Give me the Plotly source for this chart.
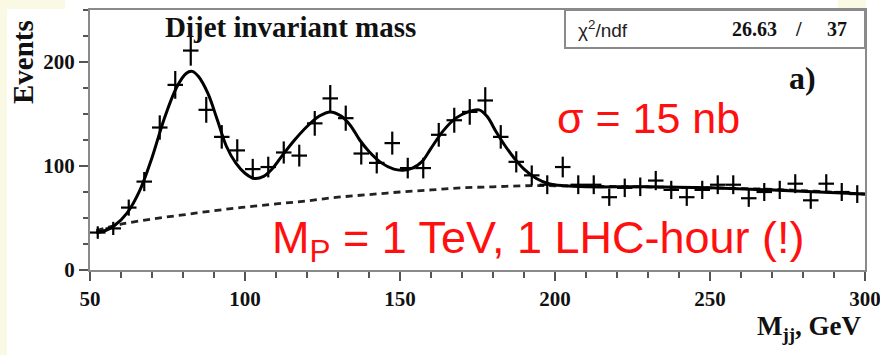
import plotly.graph_objects as go
import math

# ---------------- data ----------------
mass_bins = [52.5, 57.5, 62.5, 67.5, 72.5, 77.5, 82.5, 87.5, 92.5, 97.5,
             102.5, 107.5, 112.5, 117.5, 122.5, 127.5, 132.5, 137.5, 142.5, 147.5,
             152.5, 157.5, 162.5, 167.5, 172.5, 177.5, 182.5, 187.5, 192.5, 197.5,
             202.5, 207.5, 212.5, 217.5, 222.5, 227.5, 232.5, 237.5, 242.5, 247.5,
             252.5, 257.5, 262.5, 267.5, 272.5, 277.5, 282.5, 287.5, 292.5, 297.5]
events = [36, 40, 60, 85, 137, 178, 211, 154, 128, 115,
          97, 99, 113, 110, 141, 165, 146, 112, 103, 122,
          98, 98, 130, 144, 152, 163, 128, 104, 91, 82,
          99, 82, 82, 70, 79, 80, 86, 77, 70, 77,
          82, 82, 69, 75, 77, 83, 67, 83, 75, 73]
bin_half_width = 2.5

fit_x = [52, 55, 58, 62, 66, 70, 74, 78, 81, 83, 85, 88, 91, 94, 97, 100, 103, 106,
         109, 112, 116, 120, 124, 127.5, 131, 134, 137, 140, 144, 148, 151, 154, 157,
         160, 164, 168, 172, 175.5, 178, 181, 184, 187, 190, 194, 198, 203, 210, 230,
         250, 270, 300]
fit_y = [36, 38, 43, 55, 76, 108, 146, 176, 189, 191, 186, 170, 145, 119, 103, 93, 88, 90,
         98, 110, 125, 138, 148, 152, 148, 139, 125, 114, 103, 97, 96, 98, 104,
         117, 134, 146, 152, 154, 148, 133, 119, 107, 97, 88, 83, 81, 80, 80,
         79, 77, 73]

bkg_x = [52, 60, 70, 80, 90, 100, 110, 120, 130, 140, 150, 160, 170, 180, 190, 200,
         225, 250, 275, 300]
bkg_y = [38, 44, 49, 53, 57, 60.5, 63.5, 66.5, 70, 72.5, 75, 77, 79, 80, 81, 81,
         80, 79, 77, 73]

y_ticks = [0, 100, 200]
x_ticks = [50, 100, 150, 200, 250, 300]

title_text = "Dijet invariant mass"
chi2_label = "χ<sup>2</sup>/ndf"
chi2_value = "26.63"
ndf_value = "37"

# ---------------- layout geometry ----------------
W, H = 880, 355
L, R, T, B = 90, 15, 10, 85
PW, PH = W - L - R, H - T - B


def px(xpix):
    return (xpix - L) / PW


def py(ypix):
    return (H - B - ypix) / PH


SERIF = "Liberation Serif"
SANS = "Liberation Sans"

fig = go.Figure()

fig.add_trace(go.Scatter(
    x=bkg_x, y=bkg_y, mode="lines", line=dict(color="#222222", width=2.8, dash="7px,5px"),
    line_shape="spline", hoverinfo="skip", showlegend=False))

fig.add_trace(go.Scatter(
    x=fit_x, y=fit_y, mode="lines", line=dict(color="black", width=3),
    line_shape="spline", hoverinfo="skip", showlegend=False))

fig.add_trace(go.Scatter(
    x=mass_bins, y=events, mode="markers",
    marker=dict(size=1, color="black"),
    error_x=dict(type="constant", value=bin_half_width, width=0, thickness=2.2, color="black"),
    error_y=dict(type="data", array=[math.sqrt(v) for v in events], width=0,
                 thickness=2.2, color="black"),
    showlegend=False))

axis_common = dict(showline=True, linecolor="#8a8a8a", linewidth=2, mirror=True,
                   showgrid=False, zeroline=False, ticks="outside", tickcolor="#555555",
                   tickwidth=1.5, ticklen=9, automargin=False, ticklabeloverflow="allow",
                   tickfont=dict(family=SERIF, size=21, color="#111111", weight="bold"))

fig.update_xaxes(range=[50, 300], tickvals=x_ticks,
                 minor=dict(dtick=10, ticks="outside", ticklen=6, tickcolor="#555555",
                            tickwidth=1.5),
                 **axis_common)
fig.update_yaxes(range=[0, 250], tickvals=y_ticks,
                 minor=dict(dtick=25, ticks="outside", ticklen=5, tickcolor="#555555",
                            tickwidth=1.5),
                 **axis_common)

shapes = [
    # light yellow page margins
    dict(type="rect", xref="paper", yref="paper", x0=px(0), x1=px(7), y0=py(H), y1=py(0),
         fillcolor="#FAFAE4", line=dict(width=0), layer="below"),
    dict(type="rect", xref="paper", yref="paper", x0=px(0), x1=px(65), y0=py(9), y1=py(0),
         fillcolor="#FAFAE4", line=dict(width=0), layer="below"),
    dict(type="rect", xref="paper", yref="paper", x0=px(838), x1=px(866), y0=py(8), y1=py(0),
         fillcolor="#FAFAE4", line=dict(width=0), layer="below"),
    # chi2 box
    dict(type="rect", xref="paper", yref="paper", x0=px(565), x1=px(865), y0=py(48), y1=py(10),
         fillcolor="rgba(0,0,0,0)", line=dict(color="#8a8a8a", width=2)),
]

annotations = [
    dict(text=title_text, x=px(163), y=py(27), xanchor="left", yanchor="middle",
         font=dict(family=SERIF, size=29, color="#111111", weight="bold")),
    dict(text="Events", x=px(23), y=py(62), xanchor="center", yanchor="middle", textangle=-90,
         font=dict(family=SERIF, size=29, color="#111111", weight="bold")),
    dict(text="M<sub>jj</sub>, GeV", x=px(864), y=py(328), xanchor="right", yanchor="middle",
         font=dict(family=SERIF, size=27, color="#111111", weight="bold")),
    dict(text=chi2_label, x=px(576), y=py(29), xanchor="left", yanchor="middle",
         font=dict(family=SANS, size=19, color="#222222")),
    dict(text=chi2_value, x=px(779), y=py(29), xanchor="right", yanchor="middle",
         font=dict(family=SERIF, size=20, color="#111111", weight="bold")),
    dict(text="/", x=px(798), y=py(29), xanchor="center", yanchor="middle",
         font=dict(family=SERIF, size=20, color="#111111", weight="bold")),
    dict(text=ndf_value, x=px(849), y=py(29), xanchor="right", yanchor="middle",
         font=dict(family=SERIF, size=20, color="#111111", weight="bold")),
    dict(text="a)", x=px(802), y=py(78), xanchor="center", yanchor="middle",
         font=dict(family=SERIF, size=32, color="#111111", weight="bold")),
    dict(text="σ = 15 nb", x=px(648), y=py(118), xanchor="center", yanchor="middle",
         font=dict(family=SANS, size=43, color="#FF1010")),
    dict(text="M<sub>P</sub> = 1 TeV, 1 LHC-hour (!)", x=px(538), y=py(240),
         xanchor="center", yanchor="middle",
         font=dict(family=SANS, size=45, color="#FF1010")),
]
for a in annotations:
    a.update(xref="paper", yref="paper", showarrow=False)

fig.update_layout(
    width=W, height=H, margin=dict(l=L, r=R, t=T, b=B),
    paper_bgcolor="white", plot_bgcolor="white",
    shapes=shapes, annotations=annotations, showlegend=False,
)

fig.write_html("out.html")
